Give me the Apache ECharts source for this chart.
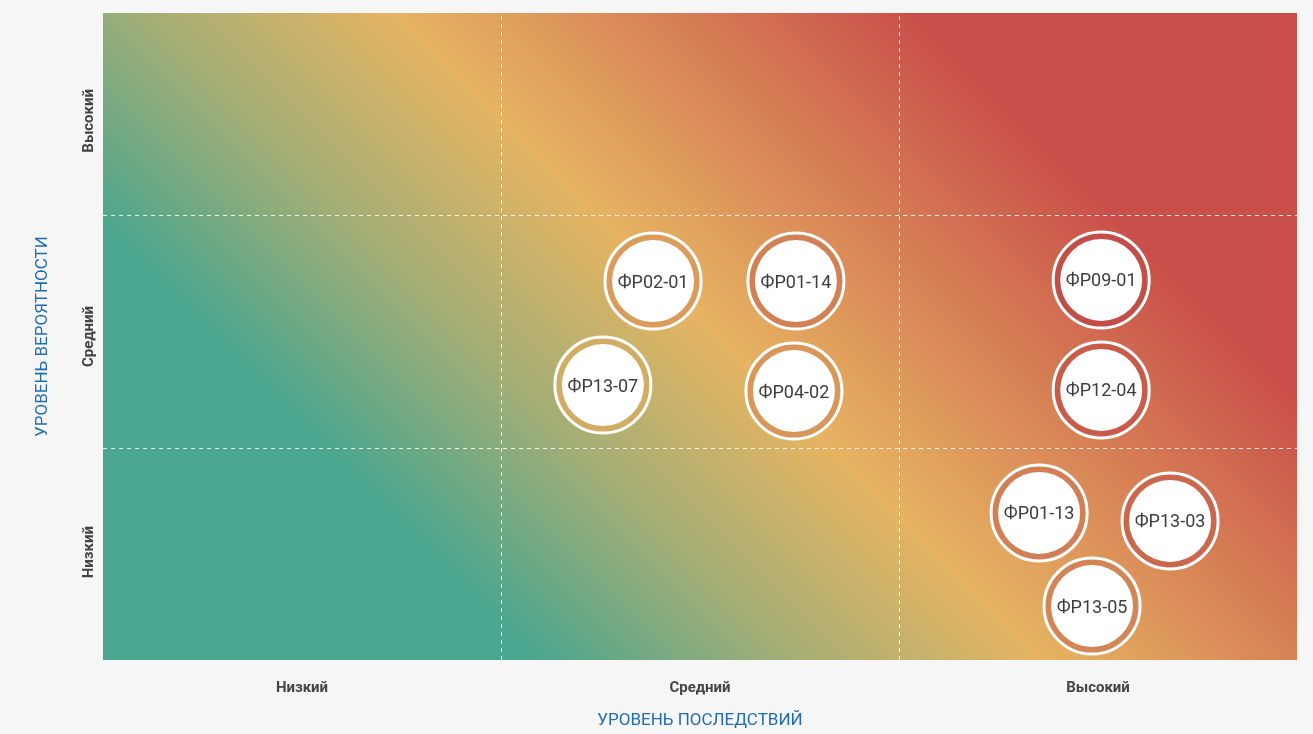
<!DOCTYPE html>
<html><head><meta charset="utf-8">
<script src="https://cdn.jsdelivr.net/npm/echarts@6/dist/echarts.min.js"></script>
<style>html,body{margin:0;padding:0;background:#f6f6f6}#c{width:1313px;height:734px}</style>
</head><body><div id="c"></div>
<script>
// ---- data ----
const impactLevels = ['Низкий', 'Средний', 'Высокий'];
const likelihoodLevels = ['Низкий', 'Средний', 'Высокий'];
const riskIds = ['ФР02-01', 'ФР01-14', 'ФР13-07', 'ФР04-02', 'ФР09-01', 'ФР12-04', 'ФР01-13', 'ФР13-03', 'ФР13-05'];
const impact = [1.382, 1.741, 1.256, 1.736, 2.508, 2.508, 2.352, 2.681, 2.485];
const likelihood = [1.757, 1.757, 1.275, 1.247, 1.762, 1.252, 0.682, 0.645, 0.250];
const impactBounds = [1, 2];
const likelihoodBounds = [0.978, 2.059];
const xTitle = 'УРОВЕНЬ ПОСЛЕДСТВИЙ';
const yTitle = 'УРОВЕНЬ ВЕРОЯТНОСТИ';

// ---- layout / style ----
const G = { left: 103, right: 16, top: 13, bottom: 74 };
const W = 1313 - G.left - G.right, H = 734 - G.top - G.bottom;
const stops = [
  [0, [74, 166, 142]], [0.235, [74, 166, 142]], [0.37, [162, 174, 118]],
  [0.51, [230, 180, 98]], [0.79, [201, 80, 74]], [1, [201, 80, 74]]
];
function colorAt(t) {
  t = Math.max(0, Math.min(1, t));
  for (let i = 1; i < stops.length; i++) {
    if (t <= stops[i][0]) {
      const a = stops[i - 1], b = stops[i];
      const f = (t - a[0]) / (b[0] - a[0] || 1);
      const c = a[1].map((v, k) => Math.round((v + (b[1][k] - v) * f) * 0.97));
      return 'rgb(' + c.join(',') + ')';
    }
  }
  return 'rgb(201,80,74)';
}
const bg = new echarts.graphic.LinearGradient(0.1145, 1.2114, 0.8855, -0.2114,
  stops.map(s => ({ offset: s[0], color: 'rgb(' + s[1].join(',') + ')' })));

const points = riskIds.map((id, i) => [impact[i], likelihood[i], id]);
const ringPoints = points.map(p => {
  const t = (p[0] / 3 * W + p[1] / 3 * H) / (W + H) + 0.06;
  return { value: p, itemStyle: { color: colorAt(t) } };
});

const chart = echarts.init(document.getElementById('c'), null, { renderer: 'canvas' });
chart.setOption({
  backgroundColor: '#f6f6f6',
  animation: false,
  grid: { left: G.left, right: G.right, top: G.top, bottom: G.bottom, show: true, backgroundColor: bg, borderWidth: 0 },
  xAxis: {
    type: 'value', min: 0, max: 3,
    name: xTitle, nameLocation: 'middle', nameGap: 52,
    nameTextStyle: { color: '#1f6db0', fontSize: 17, fontFamily: 'Roboto' },
    axisLine: { show: false },
    axisTick: { show: true, customValues: impactBounds, length: 60, lineStyle: { color: 'rgba(255,255,255,0.8)', type: [4, 4] } },
    axisLabel: { customValues: [0.5, 1.5, 2.5], formatter: v => impactLevels[Math.floor(v)], color: '#444', fontSize: 15, fontWeight: 'bold', fontFamily: 'Roboto', margin: 21 },
    splitLine: { show: false }
  },
  yAxis: {
    type: 'value', min: 0, max: 3,
    name: yTitle, nameLocation: 'middle', nameGap: 52,
    nameTextStyle: { color: '#1f6db0', fontSize: 17, fontFamily: 'Roboto' },
    axisLine: { show: false }, axisTick: { show: false },
    axisLabel: { customValues: [0.5, 1.5, 2.5], formatter: v => likelihoodLevels[Math.floor(v)], rotate: 90, color: '#444', fontSize: 15, fontWeight: 'bold', fontFamily: 'Roboto', margin: 6 },
    splitLine: { show: false }
  },
  series: [
    {
      type: 'scatter', data: [], silent: true,
      markLine: {
        silent: true, symbol: ['none', 'none'], label: { show: false },
        lineStyle: { color: 'rgba(255,255,255,0.85)', type: [4, 4], width: 1 },
        data: impactBounds.map(v => ({ xAxis: v })).concat(likelihoodBounds.map(v => ({ yAxis: v })))
      }
    },
    {
      type: 'scatter', symbol: 'circle', symbolSize: 96, silent: true,
      itemStyle: { borderColor: '#fff', borderWidth: 3, opacity: 1 },
      data: ringPoints
    },
    {
      type: 'scatter', symbol: 'circle', symbolSize: 82, silent: true,
      itemStyle: { color: '#fff', opacity: 1 },
      label: { show: true, position: 'inside', offset: [0, 2], formatter: p => p.value[2], color: '#3d3d3d', fontSize: 18, fontFamily: 'Roboto' },
      data: points
    }
  ]
});
</script></body></html>
